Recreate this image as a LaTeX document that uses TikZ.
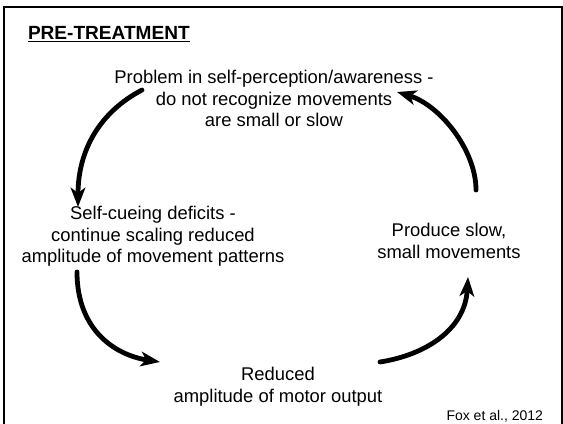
\documentclass[tikz,border=0pt]{standalone}
\usepackage{fontspec}
\setmainfont{Liberation Sans}
\usetikzlibrary{arrows.meta}

\newlength{\du}
\setlength{\du}{0.75pt}

\tikzset{
  cycletext/.style={anchor=north, align=center, inner sep=0pt,
    font=\fontsize{13.8}{16.3}\selectfont},
  cyclearrow/.style={line width=3.6pt, line cap=round,
    -{Stealth[length=14.5pt, width=11pt, inset=4pt]}}
}

\begin{document}
\begin{tikzpicture}
\pgftransformxscale{1.000000}
\pgftransformyscale{-1.000000}
\definecolor{dialinecolor}{rgb}{0.000000, 0.000000, 0.000000}
\pgfsetstrokecolor{dialinecolor}
\useasboundingbox (0\du,0\du) rectangle (563\du,424\du);
\pgfsetlinewidth{2.000000\du}
\draw (4\du,424\du)--(4\du,7\du)--(561.5\du,7\du)--(561.5\du,424\du);
% setfont left to latex
\node[anchor=base west, inner sep=0pt, font=\fontsize{14.3}{16}\selectfont\bfseries]
  (title) at (27\du,39.5\du){\underline{PRE-TREATMENT}};
% setfont left to latex
\node[cycletext] (aware) at (274\du,69\du)
  {Problem in self-perception/awareness -\\do not recognize movements\\are small or slow};
\node[cycletext] (cueing) at (153\du,205\du)
  {Self-cueing deficits -\\continue scaling reduced\\amplitude of movement patterns};
\node[cycletext] (produce) at (449\du,222\du)
  {Produce slow,\\small movements};
\node[cycletext] (reduced) at (278\du,366\du)
  {Reduced\\amplitude of motor output};
% setfont left to latex
\node[anchor=base east, inner sep=0pt, font=\fontsize{10.5}{12}\selectfont]
  (source) at (544\du,420\du){Fox et al., 2012};
\coordinate (awareL) at (142\du,90\du);
\coordinate (cueingT) at (78\du,207\du);
\coordinate (cueingB) at (77\du,272\du);
\coordinate (reducedL) at (160\du,362\du);
\coordinate (reducedR) at (380\du,362\du);
\coordinate (produceB) at (468\du,277\du);
\coordinate (produceT) at (476\du,190\du);
\coordinate (awareR) at (397\du,92\du);
\draw[cyclearrow] (awareL) .. controls (100\du,112\du) and (78\du,150\du) .. (cueingT);
\draw[cyclearrow] (cueingB) .. controls (77\du,330\du) and (115\du,355\du) .. (reducedL);
\draw[cyclearrow] (reducedR) .. controls (425\du,355\du) and (465\du,330\du) .. (produceB);
\draw[cyclearrow] (produceT) .. controls (476\du,150\du) and (440\du,105\du) .. (awareR);
\end{tikzpicture}
\end{document}
